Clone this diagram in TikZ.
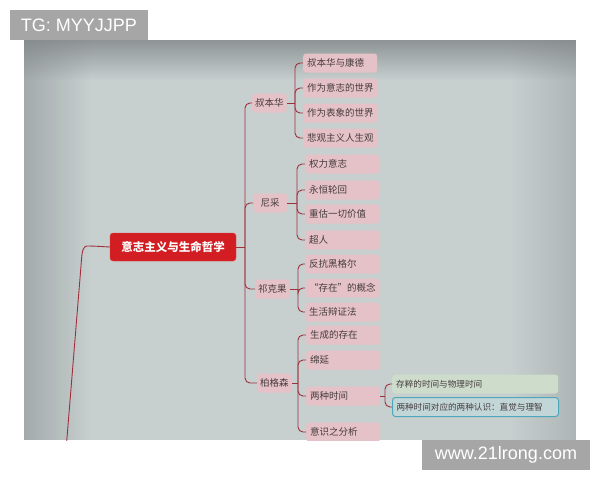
\documentclass[tikz,border=0pt]{standalone}
\usepackage{fontspec}
\setmainfont{Liberation Sans}
\newfontfamily\cjk{Noto Sans CJK SC}
\usetikzlibrary{fadings}

\definecolor{photobg}{RGB}{200,207,207}
\definecolor{photodark}{RGB}{128,134,135}
\definecolor{linkred}{RGB}{158,48,60}
\definecolor{rootred}{RGB}{210,30,34}
\definecolor{topicpink}{RGB}{229,194,199}
\definecolor{notegreen}{RGB}{205,220,203}
\definecolor{noteblue}{RGB}{194,214,215}
\definecolor{noteedge}{RGB}{78,168,188}
\definecolor{markgray}{RGB}{166,166,166}
\definecolor{topictext}{RGB}{70,60,62}

\tikzset{
  link/.style={draw=linkred, line width=0.9pt, rounded corners=5pt},
  root/.style={fill=rootred, draw=rootred!80!white, rounded corners=3pt,
    minimum width=126pt, minimum height=28pt, text=white,
    font=\cjk\bfseries\fontsize{11.5}{12}\selectfont},
  topic/.style={fill=topicpink, rounded corners=3pt, anchor=west,
    minimum width=34pt, minimum height=19pt, inner sep=3pt, text=topictext,
    font=\cjk\fontsize{9.5}{9.5}\selectfont},
  subtopic/.style={topic, minimum width=74pt, text width=66pt, align=left},
  note/.style={topic, minimum width=166pt, text width=158pt, align=left,
    inner sep=4pt, font=\cjk\fontsize{8.6}{8.6}\selectfont},
  watermark/.style={fill=markgray, text=white, font=\fontsize{18}{18}\selectfont}
}

\begin{document}
\begin{tikzpicture}[x=1pt, y=-1pt]
\useasboundingbox (0,0) rectangle (600,480);
% photo of the screen
\fill[photobg] (24,40) rectangle (576,440);
\fill[photodark, fill opacity=0.8, path fading=south] (24,40) rectangle (576,80);
\fill[photodark, fill opacity=0.5, path fading=east] (24,40) rectangle (90,440);
\fill[photodark, fill opacity=0.35, path fading=west] (510,40) rectangle (576,440);

\begin{scope}
\clip (24,40) rectangle (576,440);
\node[root] (root) at (173,247) {意志主义与生命哲学};
\coordinate (tail) at (66,450);
\draw[link] (root.west) -- (92,246) .. controls (83,246) and (82,252) .. (81,266) -- (tail);

% first level
\node[topic] (sch) at (252,103) {叔本华};
\node[topic] (nie) at (253,203) {尼采};
\node[topic] (kie) at (255,289) {祁克果};
\node[topic] (ber) at (257,383) {柏格森};
\coordinate (j0) at (245,247);
\draw[link] (root.east) -- (j0);
\foreach \p in {sch,nie,kie,ber}
  \draw[link] (j0) |- (\p.west);

% second level
\coordinate (j1) at (295,103);
\draw[link] (sch.east) -- (j1);
\foreach \n/\y/\t in {s1/63/叔本华与康德, s2/88/作为意志的世界,
    s3/113/作为表象的世界, s4/138/悲观主义人生观}{
  \node[subtopic] (\n) at (303,\y) {\t};
  \draw[link] (j1) |- (\n.west);
}
\coordinate (j2) at (297,203);
\draw[link] (nie.east) -- (j2);
\foreach \n/\y/\t in {n1/164/权力意志, n2/190/永恒轮回,
    n3/214/重估一切价值, n4/240/超人}{
  \node[subtopic] (\n) at (305,\y) {\t};
  \draw[link] (j2) |- (\n.west);
}
\coordinate (j3) at (298,289);
\draw[link] (kie.east) -- (j3);
\foreach \n/\y/\t in {k1/264/反抗黑格尔, k2/288/“存在”的概念, k3/312/生活辩证法}{
  \node[subtopic] (\n) at (305,\y) {\t};
  \draw[link] (j3) |- (\n.west);
}
\coordinate (j4) at (298,383);
\draw[link] (ber.east) -- (j4);
\foreach \n/\y/\t in {b1/335/生成的存在, b2/360/绵延, b3/396/两种时间, b4/432/意识之分析}{
  \node[subtopic] (\n) at (306,\y) {\t};
  \draw[link] (j4) |- (\n.west);
}

% third level
\node[note, fill=notegreen] (t1) at (392,384) {存粹的时间与物理时间};
\node[note, fill=noteblue, draw=noteedge, line width=1pt] (t2) at (392,407)
  {两种时间对应的两种认识：直觉与理智};
\coordinate (j5) at (385,396);
\draw[link] (b3.east) -- (j5);
\foreach \n in {t1,t2}
  \draw[link] (j5) |- (\n.west);
\end{scope}

% watermarks
\node[watermark, minimum width=138pt, minimum height=30pt] (tg) at (79,25) {TG: MYYJJPP};
\node[watermark, minimum width=168pt, minimum height=30pt] (web) at (506,455) {www.21lrong.com};
\end{tikzpicture}
\end{document}
